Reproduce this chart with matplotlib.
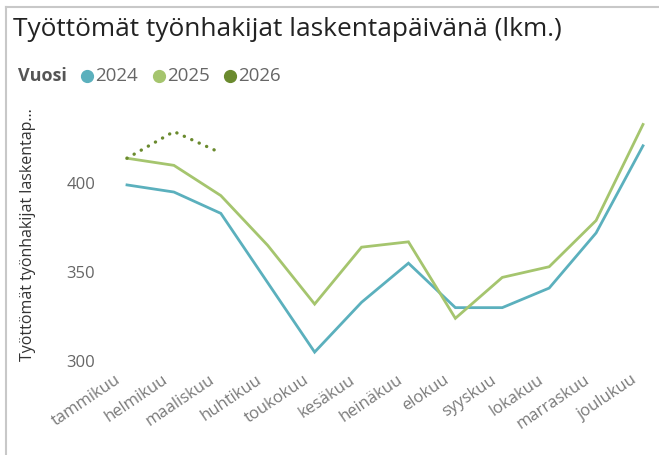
import numpy as np
import matplotlib.pyplot as plt
from matplotlib.lines import Line2D
from matplotlib.transforms import ScaledTranslation

months = ["tammikuu", "helmikuu", "maaliskuu", "huhtikuu", "toukokuu", "kesäkuu",
          "heinäkuu", "elokuu", "syyskuu", "lokakuu", "marraskuu", "joulukuu"]
y2024 = [399, 395, 383, 344, 305, 333, 355, 330, 330, 341, 372, 421]
y2025 = [414, 410, 393, 365, 332, 364, 367, 324, 347, 353, 379, 433]
y2026 = [414, 429, 417]
years = ["2024", "2025", "2026"]
colors = ["#5BB0BD", "#A5C56E", "#6A8A2E"]

plt.rcParams['font.family'] = ['Open Sans', 'DejaVu Sans']

W, H = 659, 455
fig = plt.figure(figsize=(W / 100, H / 100), dpi=100)

# plot area placed in pixels
ax = fig.add_axes([127 / W, (H - 361) / H, 516 / W, 249 / H])
x = np.arange(len(months))
ax.plot(x, y2024, color=colors[0], lw=2.0, clip_on=False, solid_joinstyle='miter')
ax.plot(x, y2025, color=colors[1], lw=2.0, clip_on=False, solid_joinstyle='miter')
ax.plot(x[:len(y2026)], y2026, color=colors[2], lw=2.4, clip_on=False,
        linestyle=(0, (0.05, 2.4)), dash_capstyle='round')

ax.set_xlim(0, 11)
ax.set_ylim(300, 440)
ax.set_yticks([300, 350, 400])
ax.set_xticks(x)
ax.set_xticklabels([])
ax.tick_params(axis='x', length=0)
ax.tick_params(axis='y', length=0, pad=23, labelsize=12, labelcolor='#666666')
for s in ax.spines.values():
    s.set_visible(False)

# month labels, shifted a bit left of the points like in the original
lab_tr = ax.get_xaxis_transform() + ScaledTranslation(-12 / 100, -11 / 100, fig.dpi_scale_trans)
for i, m in enumerate(months):
    ax.text(i, 0, m, transform=lab_tr, rotation=34, ha='right', va='top',
            rotation_mode='anchor', fontsize=12, color='#7a7a7a')

fig.text(28 / W, 1 - 235 / H, "Työttömät työnhakijat laskentap...", rotation=90,
         ha='center', va='center', fontsize=11.5, color='#333333')

# title
fig.text(13 / W, 1 - 29 / H, "Työttömät työnhakijat laskentapäivänä (lkm.)",
         ha='left', va='center', fontsize=18.9, color='#222222')

# legend
ly = 1 - 76 / H
fig.text(18 / W, ly, "Vuosi", ha='left', va='center', fontsize=13, fontweight='bold',
         color='#555555')
for cx, yr, c in zip([87, 159, 230], years, colors):
    fig.add_artist(Line2D([cx / W], [ly], marker='o', markersize=8.5, color=c,
                          linestyle='none'))
    fig.text((cx + 8) / W, ly, yr, ha='left', va='center', fontsize=13.5, color='#666666')

# card frame
fig.add_artist(Line2D([6 / W, 6 / W], [0, 1 - 7 / H], color='#C8C8C8', lw=1.5))
fig.add_artist(Line2D([6 / W, 1], [1 - 7 / H, 1 - 7 / H], color='#C8C8C8', lw=1.5))

fig.savefig("out.png", dpi=100)
